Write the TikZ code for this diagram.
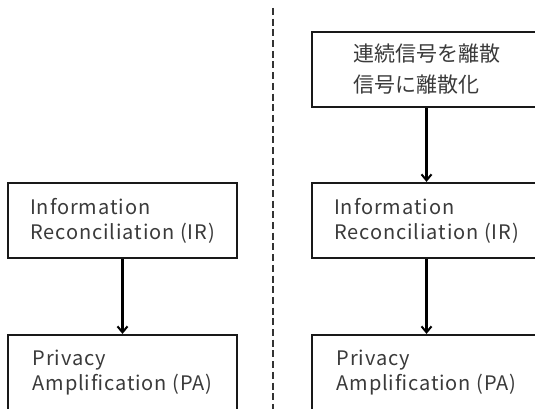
\documentclass[tikz,border=0pt]{standalone}
\usepackage{fontspec}
\setmainfont{Noto Sans CJK JP}
\newfontfamily\widelatin[LetterSpace=4.5]{Noto Sans CJK JP}
\usetikzlibrary{arrows.meta}
\definecolor{inkgray}{HTML}{3A3A3A}
\tikzset{
  stage/.style={draw=black!90, line width=2.2pt, rectangle, minimum width=229pt,
    minimum height=75pt, inner sep=0pt, align=left, text=inkgray,
    font=\widelatin\fontsize{20pt}{25pt}\selectfont},
  jpstage/.style={stage, font=\fontsize{21pt}{31pt}\selectfont},
  flow/.style={draw=black, line width=2.2pt, -{Straight Barb[length=6pt,width=10pt,line width=2pt]}},
  divider/.style={draw=black!80, line width=2.2pt, dash pattern=on 7pt off 3.7pt}
}
\begin{document}
\begin{tikzpicture}[x=1pt,y=-1pt]
  \clip (0,0) rectangle (535,409);
  \fill[white] (0,0) rectangle (535,409);
  % left column
  \node[stage] (irL) at (122.5,220.5) {Information\\Reconciliation (IR)};
  \node[stage] (paL) at (122.5,372.5) {Privacy\\Amplification (PA)};
  \draw[flow] (irL.south) -- (paL.north);
  % separator
  \coordinate (sepTop) at (273,8);
  \coordinate (sepBot) at (273,412);
  \draw[divider] (sepTop) -- (sepBot);
  % right column
  \node[jpstage] (dsR) at (426.5,69.5) {連続信号を離散\\信号に離散化};
  \node[stage] (irR) at (426.5,220.5) {Information\\Reconciliation (IR)};
  \node[stage] (paR) at (426.5,372.5) {Privacy\\Amplification (PA)};
  \draw[flow] (dsR.south) -- (irR.north);
  \draw[flow] (irR.south) -- (paR.north);
\end{tikzpicture}
\end{document}
